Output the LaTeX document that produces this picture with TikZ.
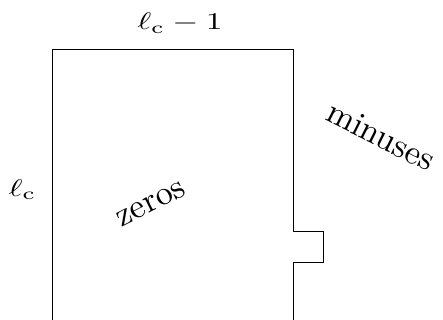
\documentclass[tikz,border=0pt]{standalone}
\usepackage{graphicx}
\begin{document}
\begin{tikzpicture}[x=1pt,y=-1pt,
  lbl/.style={inner sep=0pt},
  outline/.style={line width=0.9pt, line join=miter}]
\useasboundingbox (0,0) rectangle (443,320);
\draw[outline] (52,322) -- (52,49) -- (293,49) -- (293,231.5) -- (323,231.5)
  -- (323,262) -- (293,262) -- (293,322);
\node[lbl, anchor=base] (toplbl) at (180,30) {\scalebox{3.35}[2.4]{$\ell_{\mathrm{c}}-1$}};
\node[lbl, anchor=base] (leftlbl) at (22.5,196) {\scalebox{3.35}[2.4]{$\ell_{\mathrm{c}}$}};
\node[lbl] (zeros) at (151,204) {\rotatebox{26.6}{\scalebox{3.4}{zeros}}};
\node[lbl] (minuses) at (381,136) {\rotatebox{-26.6}{\scalebox{3.4}{minuses}}};
\end{tikzpicture}
\end{document}
